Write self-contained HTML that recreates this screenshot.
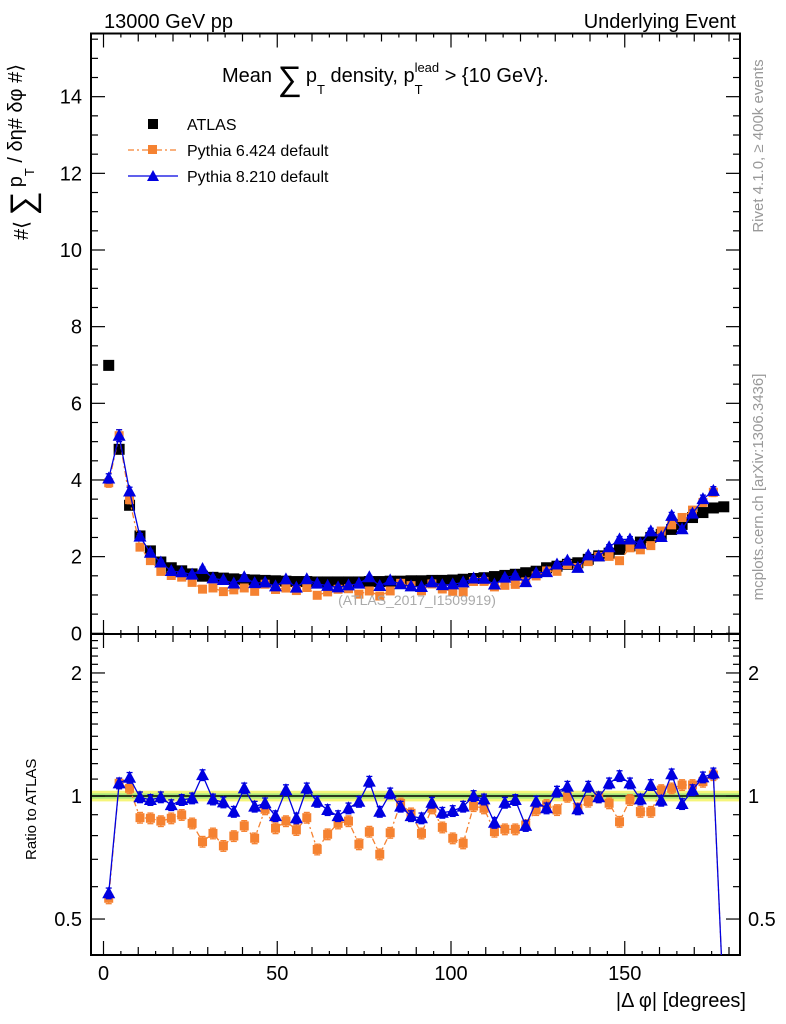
<!DOCTYPE html>
<html><head><meta charset="utf-8"><style>
html,body{margin:0;padding:0;background:#fff;width:786px;height:1024px;overflow:hidden;}
svg{display:block;font-family:"Liberation Sans",sans-serif;}
</style></head><body>
<svg id="chart" width="786" height="1024" viewBox="0 0 786 1024" xmlns="http://www.w3.org/2000/svg">
<defs>
<clipPath id="clipMain"><rect x="91" y="34" width="649" height="600"/></clipPath>
<clipPath id="clipRatio"><rect x="91" y="635" width="649" height="320"/></clipPath>
</defs>
<g id="layer"></g>
<text x="104" y="28" font-size="20">13000 GeV pp</text>
<text x="736" y="28" font-size="20" text-anchor="end">Underlying Event</text>
<text x="222" y="82" font-size="20">Mean <tspan font-size="34" dy="8">∑</tspan><tspan dy="-8" dx="4">p</tspan><tspan font-size="13" dy="12">T</tspan><tspan dy="-12"> density, p</tspan><tspan font-size="13" dy="12">T</tspan><tspan font-size="13" dy="-22" dx="-8">lead</tspan><tspan dy="10"> &gt; {10 GeV}.</tspan></text>
<text transform="translate(28,240) rotate(-90)" font-size="20">#⟨ <tspan font-size="34" dy="6">∑</tspan><tspan dy="-12" dx="4">p</tspan><tspan font-size="13" dy="12">T</tspan><tspan dy="-12">  / δη# δφ #⟩</tspan></text>
<text transform="translate(36,860) rotate(-90)" font-size="15">Ratio to ATLAS</text>
<text x="746" y="1007" font-size="20" text-anchor="end">|Δ φ| [degrees]</text>
<text transform="translate(763,146) rotate(-90)" font-size="15" fill="#999" text-anchor="middle">Rivet 4.1.0, ≥ 400k events</text>
<text transform="translate(763,487) rotate(-90)" font-size="15" fill="#999" text-anchor="middle">mcplots.cern.ch [arXiv:1306.3436]</text>
<text x="417" y="605" font-size="14" fill="#aaa" text-anchor="middle">(ATLAS_2017_I1509919)</text>
<g>
<rect x="148" y="119" width="10" height="10" fill="#000"/>
<text x="187" y="130" font-size="16">ATLAS</text>
<line x1="128" y1="150" x2="178" y2="150" stroke="#f58231" stroke-dasharray="6,3,2,3" stroke-width="1.2"/>
<rect x="148" y="145" width="9" height="9" fill="#f58231"/>
<text x="187" y="156" font-size="16">Pythia 6.424 default</text>
<line x1="128" y1="176" x2="178" y2="176" stroke="#0000e0" stroke-width="1.2"/>
<polygon points="153,170 159,181 147,181" fill="#0000e0"/>
<text x="187" y="182" font-size="16">Pythia 8.210 default</text>
</g>
</svg>
<script>
const atlas=[6.99,4.80,3.34,2.54,2.15,1.86,1.71,1.63,1.55,1.49,1.46,1.44,1.42,1.40,1.39,1.38,1.37,1.36,1.35,1.35,1.34,1.34,1.34,1.34,1.34,1.35,1.35,1.36,1.36,1.37,1.37,1.38,1.38,1.39,1.41,1.43,1.45,1.48,1.51,1.54,1.58,1.62,1.71,1.75,1.80,1.84,1.93,2.02,2.09,2.19,2.28,2.38,2.50,2.58,2.71,2.84,3.02,3.15,3.27,3.30];
const py8Ratio=[0.578,1.074,1.108,0.993,0.978,0.993,0.95,0.978,0.987,1.125,0.981,0.965,0.915,1.044,0.942,0.96,0.893,1.034,0.882,1.044,0.968,0.924,0.893,0.933,0.968,1.084,0.915,1.015,0.942,0.893,0.882,0.963,0.91,0.919,0.942,1.0,0.981,0.86,0.963,0.978,0.845,0.969,0.933,1.025,1.054,0.928,1.054,0.993,1.074,1.119,1.074,0.981,1.064,0.974,1.13,0.956,1.034,1.111,1.136,0];
const py6Ratio=[0.562,1.074,1.044,0.885,0.882,0.868,0.882,0.899,0.857,0.773,0.81,0.755,0.798,0.845,0.788,0.928,0.834,0.868,0.826,0.885,0.74,0.806,0.857,0.868,0.762,0.818,0.72,0.813,0.959,0.907,0.81,0.933,0.838,0.788,0.766,0.945,0.933,0.818,0.829,0.829,0.849,0.924,0.951,0.924,0.996,0.933,0.969,0.993,0.96,0.865,0.978,0.915,0.915,1.034,1.044,1.064,1.064,1.084,1.125,0];
const binWidth=3;
const mainTicks=[0,2,4,6,8,10,12,14];
const ratioTicks=[0.5,1,2];
const xTicks=[0,50,100,150];
const relErr=0.03;

const NS="http://www.w3.org/2000/svg";
const layer=document.getElementById('layer');
const X=d=>103.5+3.475*d;
const YM=v=>633.3-38.33*v;
const YR=r=>796-177.5*Math.log(Math.max(r,0.3));
function mk(tag,attrs,parent){const e=document.createElementNS(NS,tag);for(const k in attrs)e.setAttribute(k,attrs[k]);(parent||layer).appendChild(e);return e;}
const centers=atlas.map((_,i)=>binWidth*(i+0.5));

const band=mk('rect',{x:91,y:YR(1.03),width:649,height:YR(0.97)-YR(1.03),fill:'#f5f57a'});


const band2=mk('rect',{x:91,y:YR(1.015),width:649,height:YR(0.985)-YR(1.015),fill:'#a8e87a'});


const one=mk('line',{x1:91,x2:740,y1:YR(1),y2:YR(1),stroke:'#000','stroke-width':1.5});



const f1=mk('rect',{x:91,y:33.5,width:649,height:600.5,fill:'none',stroke:'#000','stroke-width':2});


const f2=mk('rect',{x:91,y:634,width:649,height:321,fill:'none',stroke:'#000','stroke-width':2});



for(let d=0;d<=180;d+=5){
  const len=d%50===0?14:(d%10===0?8:4);
  [634,955].forEach(yb=>{
    mk('line',{x1:X(d),x2:X(d),y1:yb,y2:yb-len,stroke:'#000','stroke-width':1.2});
    mk('line',{x1:X(d),x2:X(d),y1:(yb===634?33.5:634),y2:(yb===634?33.5:634)+len,stroke:'#000','stroke-width':1.2});
  });
}
xTicks.forEach(d=>{const t=mk('text',{x:X(d),y:980,'font-size':20,'text-anchor':'middle'});t.textContent=d;

});
for(let v=0;v<=15.5;v+=0.5){
  const len=(v%2===0)?14:7;
  mk('line',{x1:91,x2:91+len,y1:YM(v),y2:YM(v),stroke:'#000','stroke-width':1.2});
  mk('line',{x1:740,x2:740-len,y1:YM(v),y2:YM(v),stroke:'#000','stroke-width':1.2});
}
mainTicks.forEach(v=>{const t=mk('text',{x:82,y:YM(v)+7,'font-size':20,'text-anchor':'end'});t.textContent=v;

});
for(let r=0.5;r<=2.45;r+=0.1){
  const rr=Math.round(r*10)/10;
  const len=(rr===0.5||rr===1||rr===2)?14:7;
  mk('line',{x1:91,x2:91+len,y1:YR(rr),y2:YR(rr),stroke:'#000','stroke-width':1.2});
  mk('line',{x1:740,x2:740-len,y1:YR(rr),y2:YR(rr),stroke:'#000','stroke-width':1.2});
}
ratioTicks.forEach(r=>{
  const t=mk('text',{x:82,y:YR(r)+7,'font-size':20,'text-anchor':'end'});t.textContent=r;
  
  
  const t2=mk('text',{x:748,y:YR(r)+7,'font-size':20});t2.textContent=r;
  
  
});

function series(vals,yfun,clip,color,marker,dash,name,skipZero){
  const g=mk('g',{'clip-path':'url(#'+clip+')'});
  
  
  let pts=[];
  vals.forEach((v,i)=>{ if(skipZero&&v<=0)return; pts.push(X(centers[i])+','+yfun(v)); });
  const pl=mk('polyline',{points:pts.join(' '),fill:'none',stroke:color,'stroke-width':1.3},g);
  if(dash)pl.setAttribute('stroke-dasharray',dash);
  vals.forEach((v,i)=>{
    if(v<=0)return;
    const cx=X(centers[i]),cy=yfun(v);
    const y1=yfun(v*(1+relErr)),y2=yfun(v*(1-relErr));
    mk('line',{x1:cx,x2:cx,y1:y1,y2:y2,stroke:color,'stroke-width':1.3},g);
    mk('line',{x1:cx-3,x2:cx+3,y1:y1,y2:y1,stroke:color,'stroke-width':1.3},g);
    mk('line',{x1:cx-3,x2:cx+3,y1:y2,y2:y2,stroke:color,'stroke-width':1.3},g);
    let m;
    if(marker==='tri')m=mk('polygon',{points:`${cx},${cy-7} ${cx+6.5},${cy+5} ${cx-6.5},${cy+5}`,fill:color},g);
    else m=mk('rect',{x:cx-4.5,y:cy-4.5,width:9,height:9,fill:color},g);
    
    
  });
}
const g0=mk('g',{'clip-path':'url(#clipMain)'});


atlas.forEach((v,i)=>{const r=mk('rect',{x:X(centers[i])-5.5,y:YM(v)-5.5,width:11,height:11,fill:'#000'},g0);

});
const py6=atlas.map((a,i)=>a*py6Ratio[i]);
const py8=atlas.map((a,i)=>a*py8Ratio[i]);
series(py6,YM,'clipMain','#f58231','sq','6,3,2,3','pythia6-main',true);
series(py8,YM,'clipMain','#0000e0','tri',null,'pythia8-main',true);
series(py6Ratio,YR,'clipRatio','#f58231','sq','6,3,2,3','pythia6-ratio',false);
series(py8Ratio,YR,'clipRatio','#0000e0','tri',null,'pythia8-ratio',false);
</script>
</body></html>
